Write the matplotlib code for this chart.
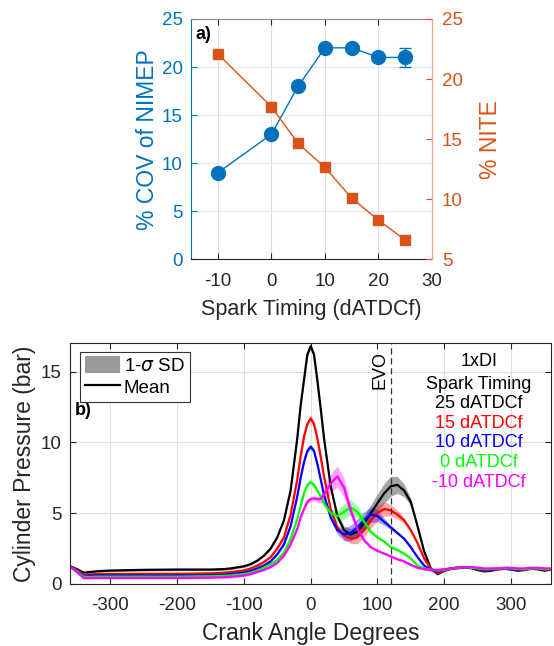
import matplotlib
matplotlib.use("Agg")
import matplotlib.pyplot as plt
from matplotlib.patches import Patch
from matplotlib.lines import Line2D
import numpy as np

plt.rcParams['font.family'] = ['Liberation Sans', 'DejaVu Sans']
plt.rcParams['mathtext.fontset'] = 'dejavusans'
plt.rcParams['axes.unicode_minus'] = False

# ---------------- panel a data ----------------
spark = [-10, 0, 5, 10, 15, 20, 25]
cov_nimep = [9, 13, 18, 22, 22, 21, 21]
cov_err = [0, 0, 0, 0, 0, 0, 1.0]
nite = [22.1, 17.7, 14.65, 12.65, 10.1, 8.25, 6.6]

# ---------------- panel b data ----------------
ang = [-360, -350, -340, -330, -320, -300, -250, -200, -150, -130, -120, -100, -90, -80, -70, -60, -50,
       -40, -30, -20, -15, -10, -5, 0, 5, 10, 15, 20, 30, 40, 50, 60, 70, 80, 90, 100, 110, 120, 130, 140,
       150, 160, 170, 180,
       190, 200, 210, 220, 230, 240, 250, 260, 270, 280, 290, 300, 310, 320, 330, 340, 350, 360]

p25 = [1.25, 1.05, 0.8, 0.85, 0.9, 0.95, 1.0, 1.02, 1.02, 1.05, 1.1, 1.25, 1.4, 1.65, 2.0, 2.5, 3.3,
       4.5, 6.6, 10.3, 12.6, 14.4, 16.2, 16.8, 16.2, 14.4, 12.4, 10.3, 6.9, 4.8, 3.8, 3.5, 3.7, 4.3, 5.0, 5.7,
       6.4, 6.9, 7.0, 6.6, 5.8, 4.1, 2.3, 1.1,
       0.7, 0.95, 1.1, 1.15, 1.2, 1.15, 1.0, 0.9, 0.95, 1.05, 1.1, 1.05, 0.95, 1.0, 1.1, 1.05, 0.95, 1.05]
p15 = [1.25, 1.0, 0.65, 0.68, 0.7, 0.7, 0.72, 0.72, 0.75, 0.8, 0.85, 0.95, 1.1, 1.3, 1.55, 1.9, 2.5,
       3.3, 4.9, 7.4, 9.0, 10.4, 11.3, 11.7, 11.3, 10.3, 9.0, 7.6, 5.3, 4.0, 3.4, 3.2, 3.3, 3.8, 4.5, 5.0,
       5.3, 5.2, 4.9, 4.5, 3.8, 2.9, 1.8, 1.1,
       0.75, 0.95, 1.1, 1.15, 1.2, 1.15, 1.05, 0.95, 1.0, 1.05, 1.1, 1.05, 1.0, 1.0, 1.1, 1.1, 1.0, 1.05]
p10 = [1.2, 0.95, 0.58, 0.58, 0.6, 0.6, 0.6, 0.6, 0.62, 0.66, 0.7, 0.8, 0.92, 1.1, 1.3, 1.6, 2.1,
       2.8, 4.1, 6.2, 7.5, 8.6, 9.4, 9.7, 9.4, 8.5, 7.4, 6.3, 4.7, 3.8, 3.5, 3.6, 4.0, 4.5, 4.9, 4.8,
       4.4, 4.0, 3.6, 3.2, 2.6, 1.9, 1.3, 1.0,
       0.85, 1.0, 1.1, 1.15, 1.2, 1.15, 1.05, 1.0, 1.0, 1.1, 1.1, 1.05, 1.0, 1.05, 1.1, 1.1, 1.05, 1.05]
p0 = [1.2, 0.9, 0.5, 0.5, 0.52, 0.52, 0.52, 0.52, 0.55, 0.58, 0.6, 0.7, 0.8, 0.95, 1.15, 1.4, 1.7,
      2.2, 3.2, 4.6, 5.5, 6.4, 7.0, 7.2, 7.0, 6.6, 6.2, 5.7, 5.0, 4.8, 5.1, 5.4, 5.1, 4.4, 3.7, 3.3,
      3.0, 2.6, 2.4, 2.15, 1.8, 1.3, 1.1, 1.0,
      0.95, 1.0, 1.1, 1.15, 1.2, 1.15, 1.1, 1.05, 1.05, 1.1, 1.1, 1.1, 1.05, 1.05, 1.1, 1.1, 1.05, 1.05]
pm10 = [1.2, 0.85, 0.42, 0.42, 0.43, 0.43, 0.43, 0.43, 0.45, 0.48, 0.5, 0.6, 0.7, 0.85, 1.0, 1.2, 1.5,
        2.0, 2.8, 3.9, 4.7, 5.3, 5.8, 6.0, 6.05, 6.0, 6.0, 6.3, 7.1, 7.6, 6.8, 5.2, 3.9, 3.1, 2.6, 2.35,
        2.15, 1.95, 1.75, 1.6, 1.35, 1.15, 1.05, 1.0,
        1.0, 1.05, 1.1, 1.15, 1.2, 1.2, 1.15, 1.1, 1.1, 1.1, 1.15, 1.15, 1.1, 1.1, 1.15, 1.15, 1.1, 1.1]

s25 = [0.08] * 17 + [0.1, 0.12, 0.15, 0.17, 0.18, 0.2, 0.2, 0.2, 0.18, 0.16, 0.15, 0.12, 0.15, 0.3, 0.4, 0.45,
                     0.5, 0.6, 0.65, 0.7, 0.7, 0.6, 0.45, 0.25, 0.12, 0.1, 0.08] + [0.08] * 18
s15 = [0.08] * 17 + [0.1, 0.12, 0.15, 0.17, 0.18, 0.18, 0.18, 0.18, 0.16, 0.15, 0.14, 0.12, 0.15, 0.25, 0.35,
                     0.45, 0.5, 0.55, 0.55, 0.5, 0.4, 0.3, 0.18, 0.1, 0.08, 0.08, 0.08] + [0.08] * 18
s10 = [0.08] * 17 + [0.1, 0.12, 0.15, 0.15, 0.16, 0.16, 0.16, 0.16, 0.15, 0.14, 0.12, 0.15, 0.3, 0.45, 0.55,
                     0.6, 0.6, 0.55, 0.4, 0.25, 0.15, 0.1, 0.08, 0.08, 0.08, 0.08, 0.08] + [0.08] * 18
s0 = [0.08] * 17 + [0.1, 0.12, 0.14, 0.15, 0.15, 0.15, 0.15, 0.15, 0.15, 0.17, 0.2, 0.3, 0.45, 0.55, 0.55,
                    0.45, 0.3, 0.15, 0.1, 0.08, 0.08, 0.08, 0.08, 0.08, 0.08, 0.08, 0.08] + [0.08] * 18
sm10 = [0.08] * 17 + [0.1, 0.12, 0.14, 0.15, 0.15, 0.15, 0.15, 0.17, 0.2, 0.3, 0.45, 0.65, 0.75, 0.65, 0.45,
                      0.25, 0.15, 0.1, 0.08, 0.08, 0.08, 0.08, 0.08, 0.08, 0.08, 0.08, 0.08] + [0.08] * 18

series_labels = ['25 dATDCf', '15 dATDCf', '10 dATDCf', '0 dATDCf', '-10 dATDCf']
series_means = [p25, p15, p10, p0, pm10]
series_sds = [s25, s15, s10, s0, sm10]
series_colors = ['#000000', '#ff0000', '#0000ff', '#00ff00', '#ff00ff']

# ---------------- figure ----------------
W, H = 554, 646
fig = plt.figure(figsize=(W / 100, H / 100), dpi=100)

blue = '#0072BD'
orange = '#D95319'
tickc = '#262626'
TF = 13.5
LF = 15.5

# ---- panel a ----
ax1 = fig.add_axes([191 / W, 1 - 259.3 / H, 241 / W, 240.3 / H])
ax1.set_xlim(-15, 30)
ax1.set_ylim(0, 25)
ax1.set_xticks([-10, 0, 10, 20, 30])
ax1.set_yticks([0, 5, 10, 15, 20, 25])
ax1.xaxis.grid(True, color='#dcdcdc', lw=0.8)
ax1.yaxis.grid(True, color='#dde8f3', lw=0.8)
ax1.set_axisbelow(True)
ax1.errorbar(spark, cov_nimep, yerr=cov_err, color=blue, marker='o', ms=10, lw=1.0,
             capsize=4, elinewidth=1.0, capthick=1.0, zorder=3)
ax1.tick_params(axis='y', colors=blue, labelsize=TF, direction='in', length=4, pad=6)
ax1.tick_params(axis='x', colors=tickc, labelsize=TF, direction='in', length=4, top=True, pad=10)
ax1.set_ylabel('% COV of NIMEP', color=blue, fontsize=LF + 1, labelpad=2)
ax1.set_xlabel('Spark Timing (dATDCf)', color=tickc, fontsize=LF, labelpad=6)
ax1.spines['left'].set_color(blue)
ax1.spines['top'].set_color('#8c8c8c')
ax1.spines['bottom'].set_color(tickc)
ax1.spines['right'].set_visible(False)
ax1.text(0.02, 0.97, 'a)', transform=ax1.transAxes, fontsize=13, fontweight='bold', va='top', ha='left')

ax2 = ax1.twinx()
ax2.set_ylim(5, 25)
ax2.set_yticks([5, 10, 15, 20, 25])
ax2.plot(spark, nite, color=orange, marker='s', ms=7, lw=1.0, zorder=3)
ax2.tick_params(axis='y', colors=orange, labelsize=TF, direction='in', length=4, pad=7)
ax2.set_ylabel('% NITE', color=orange, fontsize=LF + 1, labelpad=12)
ax2.spines['right'].set_color('#f0a080')
ax2.spines['left'].set_visible(False)
ax2.spines['top'].set_visible(False)
ax2.spines['bottom'].set_visible(False)

# ---- panel b ----
ax = fig.add_axes([70.3 / W, 1 - 584 / H, 480.7 / W, 240.7 / H])
ax.set_xlim(-360, 360)
ax.set_ylim(0, 17)
ax.set_xticks([-300, -200, -100, 0, 100, 200, 300])
ax.set_yticks([0, 5, 10, 15])
ax.grid(True, color='#e0e0e0', lw=0.8)
ax.set_axisbelow(True)
for m, s, c in zip(series_means, series_sds, series_colors):
    m = np.asarray(m)
    s = np.asarray(s)
    ax.fill_between(ang, m - s, m + s, color=c, alpha=0.35, lw=0)
for m, c in zip(series_means, series_colors):
    ax.plot(ang, m, color=c, lw=1.6)
ax.axvline(120, color='#333333', lw=0.9, ls=(0, (5, 3)))
ax.text(117, 16.45, 'EVO', rotation=90, ha='right', va='top', fontsize=13, color='black')
ax.tick_params(axis='x', colors=tickc, labelsize=TF, direction='in', length=4, top=True, pad=9)
ax.tick_params(axis='y', colors=tickc, labelsize=TF, direction='in', length=4, right=True, pad=6)
for sp in ax.spines.values():
    sp.set_color(tickc)
ax.set_xlabel('Crank Angle Degrees', color=tickc, fontsize=LF + 1, labelpad=6)
ax.set_ylabel('Cylinder Pressure (bar)', color=tickc, fontsize=LF + 1, labelpad=4)

tx = 0.85
ax.text(tx, 0.925, '1xDI', transform=ax.transAxes, ha='center', va='center', fontsize=13, color='black')
ax.text(tx, 0.83, 'Spark Timing', transform=ax.transAxes, ha='center', va='center', fontsize=13, color='black')
ys = [0.75, 0.667, 0.587, 0.505, 0.423]
for lab, c, yy in zip(series_labels, series_colors, ys):
    ax.text(tx, yy, lab, transform=ax.transAxes, ha='center', va='center', fontsize=13, color=c)

ax.text(0.01, 0.72, 'b)', transform=ax.transAxes, fontsize=13, fontweight='bold', va='center', ha='left')

handles = [Patch(facecolor='#999999', edgecolor='none'), Line2D([], [], color='black', lw=1.6)]
leg = ax.legend(handles, [r'1-$\sigma$ SD', 'Mean'], loc='upper left', bbox_to_anchor=(0.02, 0.965),
                fontsize=13.5, frameon=True, fancybox=False, edgecolor='#333333', framealpha=1,
                handlelength=1.9, handleheight=1.0, handletextpad=0.2, borderpad=0.25, labelspacing=0.15,
                borderaxespad=0)
leg.get_frame().set_linewidth(0.8)

fig.savefig('out.png', dpi=100)
